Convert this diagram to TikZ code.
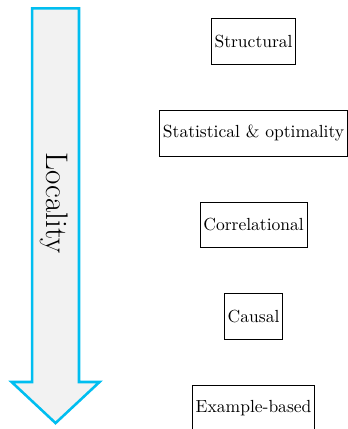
\documentclass[tikz,border=0pt,11pt]{standalone}
\usepackage{tikz}
\usetikzlibrary{positioning}
\definecolor{locblue}{RGB}{0,190,240}

\begin{document}
\begin{tikzpicture}[>=latex,
  expl/.style={draw, minimum height=1cm, inner xsep=2pt},
  locarrow/.style={draw=locblue, ultra thick, fill=gray!10, line join=miter}]
\useasboundingbox (0,0) rectangle (7.62,9.42);

%Locality
\draw[locarrow] (0.705,9.237) -- (1.735,9.237) -- (1.735,1.032) -- (2.185,1.032)
  -- (1.22,0.13) -- (0.255,1.032) -- (0.705,1.032) -- cycle;
\node[rotate=-90] (loc) at (1.18,4.964) {\fontsize{19.5}{23}\selectfont Locality};

%explanation types
\node[expl] (struct) at (5.568,8.512) {Structural};
\node[expl, below=1cm of struct] (stat) {Statistical \& optimality};
\node[expl, below=1cm of stat] (corr) {Correlational};
\node[expl, below=1cm of corr] (causal) {Causal};
\node[expl, below=1cm of causal] (example) {Example-based};
\end{tikzpicture}
\end{document}
